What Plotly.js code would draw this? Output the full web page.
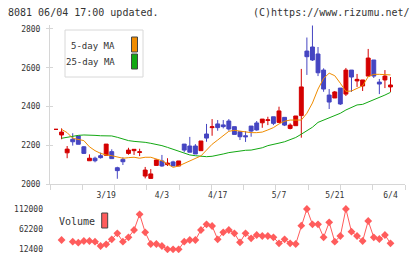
<!DOCTYPE html>
<html>
<head>
<meta charset="utf-8">
<script src="https://cdn.plot.ly/plotly-3.0.1.min.js"></script>
<style>html,body{margin:0;padding:0;background:#fff;}#chart{width:420px;height:259px;}</style>
</head>
<body>
<div id="chart"></div>
<script>
// ---- data (one entry per trading day) ----
const opens  = [2282,2253,2161,2231,2248,2192,2120,2133,2146,2148,2167,2084,2127,2158,2172,2163,2041,2029,2096,2119,2100,2114,2093,2206,2196,2196,2172,2258,2291,2310,2305,2325,2296,2270,2249,2299,2315,2316,2328,2347,2318,2344,2287,2301,2353,2686,2707,2671,2588,2459,2444,2495,2464,2588,2532,2506,2557,2640,2526,2537,2501];
const highs  = [2282,2287,2196,2262,2248,2196,2153,2141,2162,2206,2179,2089,2138,2187,2179,2182,2088,2077,2127,2150,2133,2120,2119,2206,2243,2206,2222,2310,2335,2330,2330,2335,2296,2270,2273,2299,2325,2335,2347,2347,2399,2344,2313,2351,2594,2756,2818,2707,2597,2490,2480,2495,2599,2588,2568,2537,2697,2640,2542,2588,2552];
const lows   = [2282,2231,2133,2198,2205,2155,2120,2112,2131,2148,2131,2027,2098,2151,2150,2144,2029,2029,2096,2089,2093,2093,2093,2164,2164,2155,2172,2218,2249,2275,2287,2275,2256,2227,2217,2244,2275,2290,2304,2304,2318,2299,2282,2301,2239,2563,2635,2557,2476,2387,2444,2408,2454,2475,2501,2480,2557,2547,2464,2495,2475];
const closes = [2282,2268,2180,2218,2205,2158,2133,2120,2136,2206,2131,2069,2115,2175,2179,2166,2072,2052,2124,2093,2108,2093,2119,2175,2164,2155,2222,2237,2295,2291,2296,2284,2256,2244,2244,2273,2279,2335,2331,2313,2377,2304,2304,2351,2501,2657,2640,2574,2490,2423,2475,2413,2588,2552,2540,2537,2650,2557,2516,2557,2511];
const ma5    = [null,2282,2265,2236,2231,2224,2192,2172,2158,2150,2146,2141,2133,2136,2138,2133,2138,2138,2131,2120,2103,2086,2093,2107,2119,2133,2145,2175,2205,2227,2249,2272,2277,2273,2268,2265,2265,2268,2279,2291,2310,2324,2330,2330,2330,2365,2418,2490,2545,2572,2559,2520,2478,2480,2494,2507,2554,2566,2566,2566,2563];
const ma25   = [null,2236,2241,2248,2251,2253,2253,2251,2249,2248,2248,2241,2231,2224,2220,2218,2215,2210,2205,2198,2189,2179,2169,2158,2150,2146,2143,2141,2143,2148,2155,2162,2167,2172,2174,2175,2181,2187,2198,2203,2211,2218,2228,2240,2257,2275,2293,2318,2330,2339,2351,2365,2382,2396,2408,2411,2422,2434,2447,2459,2473];
const volumes = [null,34810,null,30580,28090,32320,32320,30580,19870,24100,36550,51490,30580,41530,59710,98800,53980,24850,24850,19870,11650,11650,11650,30580,34810,34810,59710,73900,69670,36550,53980,59710,51490,29080,51490,39040,47260,44770,44770,41530,26600,36550,26600,24850,70420,112000,73900,73900,41530,78880,30580,44770,112000,55480,44770,32320,82120,41530,37300,47260,26600];
const dateLabels = ['3/19','4/3','4/17','5/7','5/21','6/4'];
const dateLabelIdx = [9,19,29,40,50,60];
const priceTicks = [2000,2200,2400,2600,2800];
const volumeTicks = [12400,62200,112000];

// ---- layout helpers ----
const W = 420, H = 259;
const px = x => x / W;
const py = y => 1 - y / H;
const idx = opens.map((_, i) => i);
const xRange = [-1.076, 62.6];
const FONT = 'DejaVu Sans Mono';
const AX = '#d6d6d6';
const RED = '#d40000', BLUE = '#4545c2', ORANGE = '#f08c00', GREEN = '#12a812', VOL = '#ff5c5c';

const traces = [
  {type:'scatter', x: idx, y: ma25, mode:'lines', line:{color:GREEN, width:1}, hoverinfo:'skip', showlegend:false, xaxis:'x', yaxis:'y'},
  {type:'scatter', x: idx, y: ma5, mode:'lines', line:{color:ORANGE, width:1}, hoverinfo:'skip', showlegend:false, xaxis:'x', yaxis:'y'},
  {type:'candlestick', x: idx, open: opens, high: highs, low: lows, close: closes,
   increasing:{line:{color:RED, width:1}, fillcolor:RED},
   decreasing:{line:{color:BLUE, width:1}, fillcolor:BLUE},
   whiskerwidth:0, hoverinfo:'skip', showlegend:false, xaxis:'x', yaxis:'y'},
  {type:'scatter', x: [], y: [], xaxis:'x', yaxis:'y3', showlegend:false, hoverinfo:'skip'},
  {type:'scatter', x: idx, y: volumes, mode:'lines+markers', connectgaps:false,
   line:{color:VOL, width:1}, marker:{symbol:'diamond', size:6, color:VOL},
   hoverinfo:'skip', showlegend:false, xaxis:'x2', yaxis:'y2'}
];

const layout = {
  width: W, height: H, autosize:false,
  margin:{l:0, r:0, t:0, b:0, pad:0},
  paper_bgcolor:'#fff', plot_bgcolor:'#fff',
  font:{family:FONT, size:8, color:'#333'},
  showlegend:false,
  boxgap:0.3,
  boxgroupgap:0,
  xaxis:{domain:[px(50), px(405)], range:xRange, anchor:'y', showgrid:false, zeroline:false,
         showline:true, linecolor:AX, linewidth:1, ticks:'outside', ticklen:5, tickcolor:AX,
         tickmode:'linear', tick0:xRange[0], dtick:(xRange[1]-xRange[0])/11,
         showticklabels:false, rangeslider:{visible:false}, fixedrange:true},
  yaxis:{domain:[py(184), py(25)], range:[2000, 2820.6], anchor:'x', showgrid:false, zeroline:false,
         showline:true, linecolor:AX, linewidth:1, ticks:'outside', ticklen:3, tickcolor:AX,
         tickmode:'array', tickvals:priceTicks, ticktext:priceTicks.map(String),
         ticklabelstandoff:4, tickfont:{family:FONT, size:8, color:'#333'}, fixedrange:true},
  yaxis3:{overlaying:'y', anchor:'x', range:[2000, 2820.6], showgrid:false, zeroline:false,
         showline:false, ticks:'inside', ticklen:3, tickcolor:AX,
         tickmode:'array', tickvals:priceTicks, showticklabels:false, fixedrange:true},
  xaxis2:{domain:[px(50), px(405)], range:xRange, anchor:'y2', side:'top', showgrid:false, zeroline:false,
          showline:false, ticks:'', tickmode:'array', tickvals:dateLabelIdx, ticktext:dateLabels,
          ticklabelstandoff:2, tickfont:{family:FONT, size:8, color:'#333'}, fixedrange:true},
  yaxis2:{domain:[py(253), py(203)], range:[2440, 126940], anchor:'x2', showgrid:false, zeroline:false,
          showline:false, ticks:'', tickmode:'array', tickvals:volumeTicks, ticktext:volumeTicks.map(String),
          ticklabelstandoff:6, tickfont:{family:FONT, size:8, color:'#333'}, fixedrange:true},
  shapes:[
    {type:'rect', xref:'paper', yref:'paper', x0:px(65), x1:px(143), y0:py(77), y1:py(30), line:{color:'#d8d8d8', width:1}, fillcolor:'#fff', layer:'below'},
    {type:'rect', xref:'paper', yref:'paper', x0:px(131.5), x1:px(137.5), y0:py(52), y1:py(37), line:{color:'#444', width:1}, fillcolor:ORANGE},
    {type:'rect', xref:'paper', yref:'paper', x0:px(131.5), x1:px(137.5), y0:py(69), y1:py(54), line:{color:'#444', width:1}, fillcolor:GREEN},
    {type:'rect', xref:'paper', yref:'paper', x0:px(101.7), x1:px(107.7), y0:py(228), y1:py(213), line:{color:'#444', width:1}, fillcolor:VOL}
  ],
  annotations:[
    {xref:'paper', yref:'paper', x:px(6), y:py(12.5), xanchor:'left', yanchor:'middle', showarrow:false,
     text:'8081 06/04 17:00 updated.', font:{family:FONT, size:10, color:'#333'}},
    {xref:'paper', yref:'paper', x:px(412), y:py(12.5), xanchor:'right', yanchor:'middle', showarrow:false,
     text:'(C)https://www.rizumu.net/', font:{family:FONT, size:10, color:'#333'}},
    {xref:'paper', yref:'paper', x:px(117), y:py(46), xanchor:'right', yanchor:'middle', showarrow:false,
     text:'5-day MA', font:{family:FONT, size:9, color:'#333'}},
    {xref:'paper', yref:'paper', x:px(117), y:py(62), xanchor:'right', yanchor:'middle', showarrow:false,
     text:'25-day MA', font:{family:FONT, size:9, color:'#333'}},
    {xref:'paper', yref:'paper', x:px(57), y:py(221.5), xanchor:'left', yanchor:'middle', showarrow:false,
     text:'Volume', font:{family:FONT, size:10, color:'#333'}}
  ]
};

Plotly.newPlot('chart', traces, layout, {staticPlot:true, displayModeBar:false});
</script>
</body>
</html>
